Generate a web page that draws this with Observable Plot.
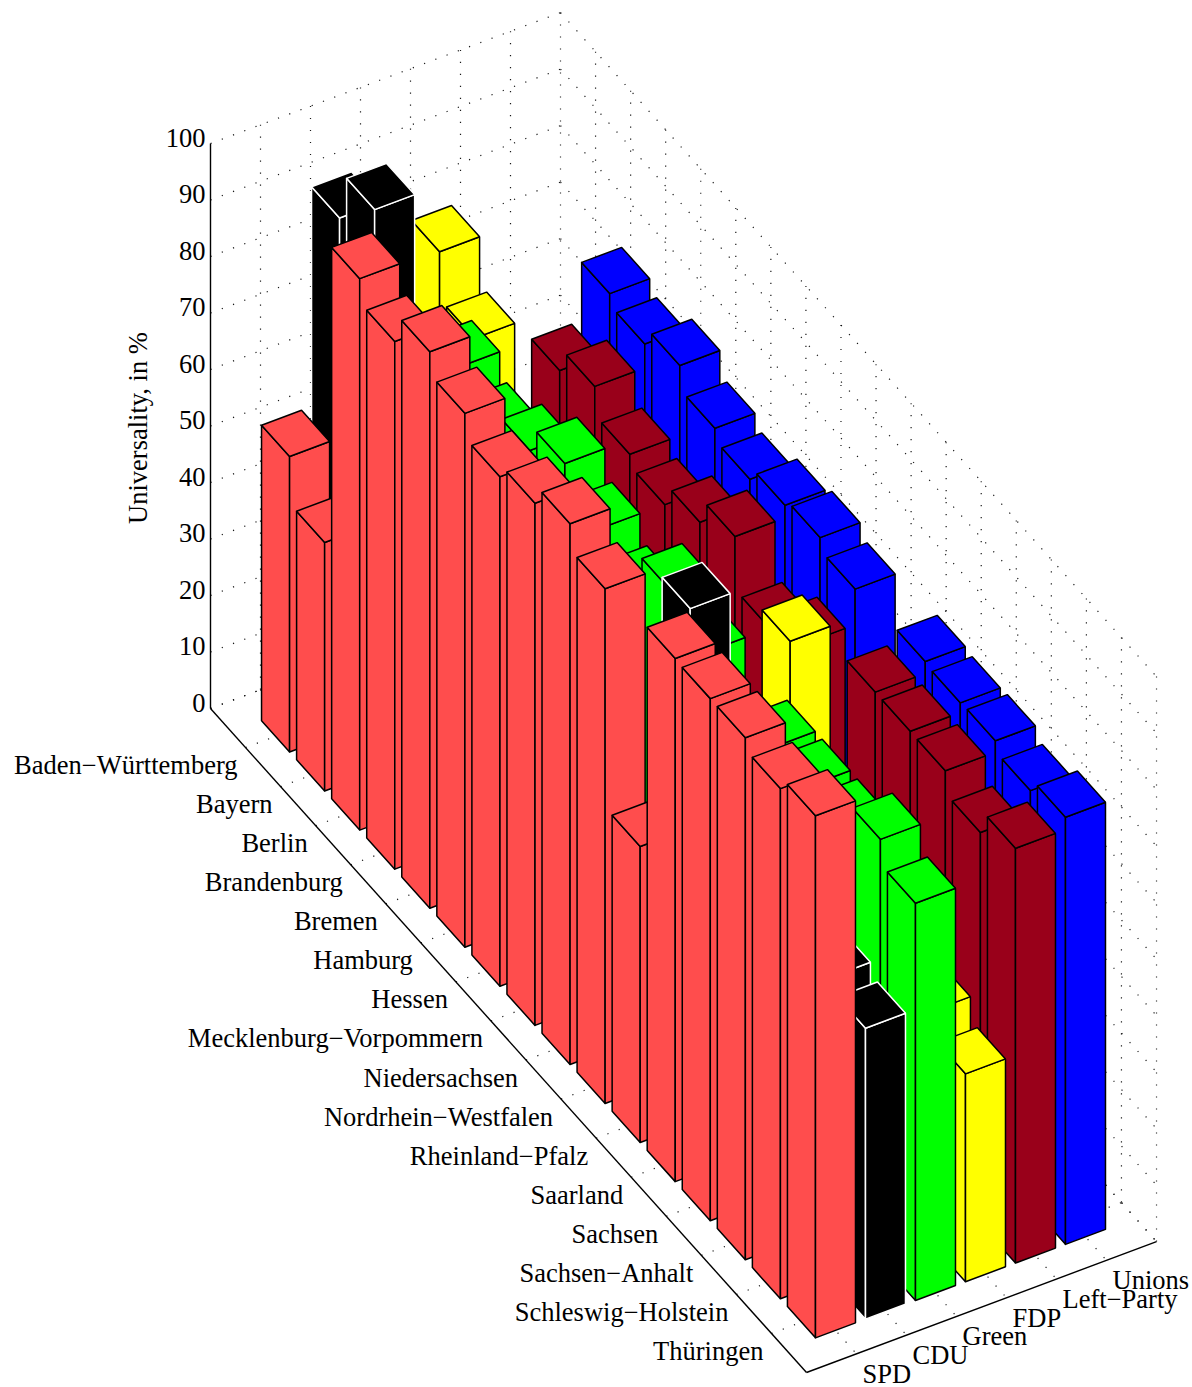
<!DOCTYPE html>
<html>
<head>
<meta charset="utf-8">
<script src="https://cdn.jsdelivr.net/npm/d3@7"></script>
<script src="https://cdn.jsdelivr.net/npm/@observablehq/plot@0.6"></script>
<style>
html,body{margin:0;padding:0;background:#fff}
svg{display:block}
</style>
</head>
<body>
<div id="chart"></div>
<script>
const states = ["Baden−Württemberg","Bayern","Berlin","Brandenburg","Bremen","Hamburg","Hessen","Mecklenburg−Vorpommern","Niedersachsen","Nordrhein−Westfalen","Rheinland−Pfalz","Saarland","Sachsen","Sachsen−Anhalt","Schleswig−Holstein","Thüringen"];
const parties = ["SPD","CDU","Green","FDP","Left−Party","Unions"];
const partyFill = ["#ff4d4d","#000000","#00ff00","#ffff00","#99001a","#0000ff"];
const partyEdge = ["#000000","#ffffff","#000000","#000000","#000000","#000000"];
const zTicks = [0,10,20,30,40,50,60,70,80,90,100];

// null = bar entirely hidden behind nearer bars in the picture
const spd   = [52.3,44.0,97.6,93.4,98.5,94.5,90.2,92.4,95.7,91.1,52.4,92.6,92.4,92.4,90.3,92.4];
const cdu   = [91.2,99.6,null,null,null,null,null,null,null,null,91.2,null,null,null,53.6,51.5];
const green = [null,null,75.4,71.3,74.4,79.0,74.4,70.1,77.4,73.2,null,70.4,70.4,70.3,74.7,70.3];
const fdp   = [78.6,70.2,null,null,null,null,null,null,null,null,78.8,null,null,null,40.9,36.8];
const left  = [null,null,68.1,72.2,67.1,65.1,68.9,73.3,63.9,68.2,null,73.4,73.4,73.3,69.3,73.4];
const unions= [null,null,78.4,76.4,79.5,75.3,73.2,75.5,76.7,74.5,null,75.5,75.1,75.3,73.4,75.6];
const series = [spd,cdu,green,fdp,left,unions];

// oblique projection of (state position, party position, value) to page pixels
const px = (s,p) => 210 + 35.06*s + 50*p;
const py = (s,p,v) => 708 + 39.06*s - 18.7*p - 5.65*v;
const sMax = states.length + 1, pMax = parties.length + 1, half = 0.4;

// bar faces, back to front
const faces = [];
states.forEach((_, si) => {
  for (let pi = parties.length - 1; pi >= 0; pi--) {
    const v = series[pi][si];
    if (v == null) continue;
    const s = si + 1, p = pi + 1;
    const sA = s - half, sB = s + half, pA = p - half, pB = p + half;
    const polys = [
      [[sA,pA,0],[sB,pA,0],[sB,pA,v],[sA,pA,v]],
      [[sB,pA,0],[sB,pB,0],[sB,pB,v],[sB,pA,v]],
      [[sA,pA,v],[sB,pA,v],[sB,pB,v],[sA,pB,v]]
    ];
    polys.forEach((poly, k) => {
      const id = `${si}-${pi}-${k}`;
      [...poly, poly[0]].forEach(([a,b,c]) => faces.push({id, x:px(a,b), y:py(a,b,c), fill:partyFill[pi], edge:partyEdge[pi]}));
    });
  }
});

// dotted grid on floor and the two back walls
const grid = [];
const seg = (a,b,c,d,e,f) => grid.push({x1:px(a,b), y1:py(a,b,c), x2:px(d,e), y2:py(d,e,f)});
zTicks.forEach(v => { seg(0,0,v,0,pMax,v); seg(0,pMax,v,sMax,pMax,v); });
d3.range(1,sMax).forEach(s => { seg(s,0,0,s,pMax,0); seg(s,pMax,0,s,pMax,100); });
d3.range(1,pMax).forEach(p => { seg(0,p,0,sMax,p,0); seg(0,p,0,0,p,100); });
// the remaining back-corner lines
seg(0,pMax,0,0,pMax,100);
seg(sMax,pMax,0,sMax,pMax,100);
seg(0,0,0,0,pMax,0);
seg(0,pMax,0,sMax,pMax,0);

const axisLines = [
  {x1:px(0,0), y1:py(0,0,0), x2:px(0,0), y2:py(0,0,100)},
  {x1:px(0,0), y1:py(0,0,0), x2:px(sMax,0), y2:py(sMax,0,0)},
  {x1:px(sMax,0), y1:py(sMax,0,0), x2:px(sMax,pMax), y2:py(sMax,pMax,0)}
];

const font = "'Liberation Serif','Times New Roman',serif";
const fs = 26.5;
const chart = Plot.plot({
  width:1192, height:1387, margin:0,
  style:{fontFamily:font, background:"#fff", overflow:"hidden"},
  x:{domain:[0,1192], range:[0,1192], axis:null},
  y:{domain:[0,1387], range:[0,1387], axis:null},
  color:{type:"identity"},
  marks:[
    Plot.link(grid,{x1:"x1",y1:"y1",x2:"x2",y2:"y2",stroke:"#000",strokeWidth:1.2,strokeOpacity:0.9,strokeDasharray:"1.2 10.8"}),
    Plot.link(axisLines,{x1:"x1",y1:"y1",x2:"x2",y2:"y2",stroke:"#000",strokeWidth:1.4}),
    Plot.line(faces,{x:"x",y:"y",z:"id",fill:"fill",stroke:"edge",strokeWidth:1.5,strokeLinejoin:"miter"}),
    Plot.text(zTicks,{x:()=>px(0,0),y:d=>py(0,0,d),text:d=>String(d),textAnchor:"end",dx:-5,dy:-5,fontSize:fs,fill:"#000"}),
    Plot.text(states,{x:(d,i)=>px(i+1,0),y:(d,i)=>py(i+1,0,0),text:d=>d,textAnchor:"end",dx:-8,dy:18,fontSize:fs,fill:"#000"}),
    Plot.text(parties,{x:(d,i)=>px(sMax,i+1),y:(d,i)=>py(sMax,i+1,0),text:d=>d,textAnchor:"start",dx:6,dy:20.5,fontSize:fs,fill:"#000"}),
    Plot.text(["Universality, in %"],{x:()=>px(0,0),y:()=>py(0,0,50),text:d=>d,rotate:-90,dx:-72,dy:2,fontSize:fs,fill:"#000"})
  ]
});
document.getElementById("chart").append(chart);
</script>
</body>
</html>
